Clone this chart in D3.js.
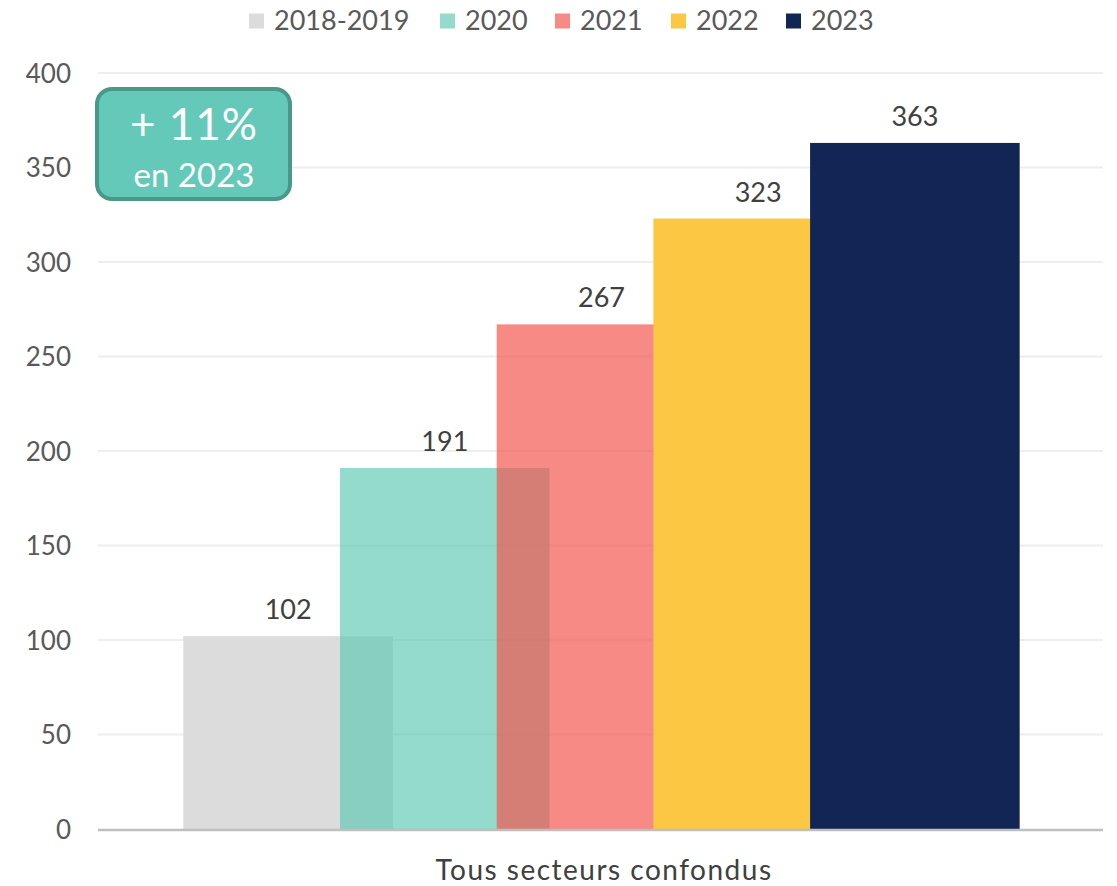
<!DOCTYPE html>
<html>
<head>
<meta charset="utf-8">
<script src="https://cdn.jsdelivr.net/npm/d3@7"></script>
<style>
  body { margin: 0; background: #fff; }
  text { font-family: "Lato", "Open Sans", sans-serif; }
</style>
</head>
<body>
<svg width="1117" height="886"></svg>
<script>
const svg = d3.select("svg");

// données
const categories = ["Tous secteurs confondus"];
const series = ["2018-2019", "2020", "2021", "2022", "2023"];
const values = [102, 191, 267, 323, 363];
const yTicks = [0, 50, 100, 150, 200, 250, 300, 350, 400];
const colors = ["#dcdcdc", "#5dc7b3", "#f5534d", "#fcc844", "#112655"];
const opacities = [1, 0.66, 0.68, 1, 1];

const plotLeft = 98, plotRight = 1103, plotTop = 73, plotBottom = 829;

const y = d3.scaleLinear().domain([0, 400]).range([plotBottom, plotTop]);

// une seule catégorie, barres qui se chevauchent (25%)
const x0 = d3.scaleBand()
  .domain(categories)
  .range([plotLeft + 2, plotRight])
  .paddingOuter(((plotRight - plotLeft) / 838 - 1) / 2);

const barW = x0.bandwidth() * 210 / 838;
const x1 = d3.scalePoint()
  .domain(series)
  .range([0, x0.bandwidth() - barW]);

// grille
svg.append("g")
  .selectAll("line")
  .data(yTicks.filter(d => d > 0))
  .join("line")
  .attr("x1", plotLeft).attr("x2", plotRight)
  .attr("y1", d => y(d)).attr("y2", d => y(d))
  .attr("stroke", "#eeeeee")
  .attr("stroke-width", 2);

// axe Y
const yAxis = svg.append("g")
  .attr("transform", `translate(${plotLeft - 27},0)`)
  .call(d3.axisLeft(y).tickValues(yTicks).tickSize(0).tickPadding(0));
yAxis.select(".domain").remove();
yAxis.selectAll("text")
  .attr("fill", "#595959")
  .attr("font-size", 26)
  .attr("dy", "0.35em");

const data = series.map((s, i) => ({ s, v: values[i], c: colors[i], o: opacities[i] }));

// barres
svg.append("g")
  .selectAll("rect")
  .data(data)
  .join("rect")
  .attr("x", d => x0(categories[0]) + x1(d.s))
  .attr("y", d => y(d.v))
  .attr("width", barW)
  .attr("height", d => plotBottom - y(d.v))
  .attr("fill", d => d.c)
  .attr("fill-opacity", d => d.o);

// étiquettes
svg.append("g")
  .selectAll("text")
  .data(data)
  .join("text")
  .attr("x", d => x0(categories[0]) + x1(d.s) + barW / 2)
  .attr("y", d => y(d.v) - 17)
  .attr("text-anchor", "middle")
  .attr("font-size", 27)
  .attr("fill", "#404040")
  .text(d => d.v);

// axe X
svg.append("line")
  .attr("x1", plotLeft).attr("x2", plotRight)
  .attr("y1", plotBottom + 1).attr("y2", plotBottom + 1)
  .attr("stroke", "#bfbfbf")
  .attr("stroke-width", 2.5);

svg.append("text")
  .attr("x", 604)
  .attr("y", 880)
  .attr("text-anchor", "middle")
  .attr("font-size", 28)
  .attr("letter-spacing", 1.5)
  .attr("fill", "#404040")
  .text(categories[0]);

// légende
const legendX = [249, 440, 555, 671, 786];
const legend = svg.append("g")
  .selectAll("g")
  .data(data)
  .join("g")
  .attr("transform", (d, i) => `translate(${legendX[i]},21)`);
legend.append("rect")
  .attr("x", 0).attr("y", -7.5)
  .attr("width", 15).attr("height", 15)
  .attr("fill", d => d.c)
  .attr("fill-opacity", d => d.o);
legend.append("text")
  .attr("x", 25)
  .attr("dy", "0.35em")
  .attr("font-size", 27)
  .attr("fill", "#595959")
  .text(d => d.s);

// encadré
const box = svg.append("g");
box.append("rect")
  .attr("x", 97).attr("y", 89)
  .attr("width", 193).attr("height", 110)
  .attr("rx", 15)
  .attr("fill", "#64c9b8")
  .attr("stroke", "#4a9888")
  .attr("stroke-width", 4);
box.append("text")
  .attr("x", 194).attr("y", 140)
  .attr("text-anchor", "middle")
  .attr("font-size", 44)
  .attr("letter-spacing", 1)
  .attr("fill", "#fff")
  .text("+ 11%");
box.append("text")
  .attr("x", 194).attr("y", 187)
  .attr("text-anchor", "middle")
  .attr("font-size", 33)
  .attr("fill", "#fff")
  .text("en 2023");
</script>
</body>
</html>
